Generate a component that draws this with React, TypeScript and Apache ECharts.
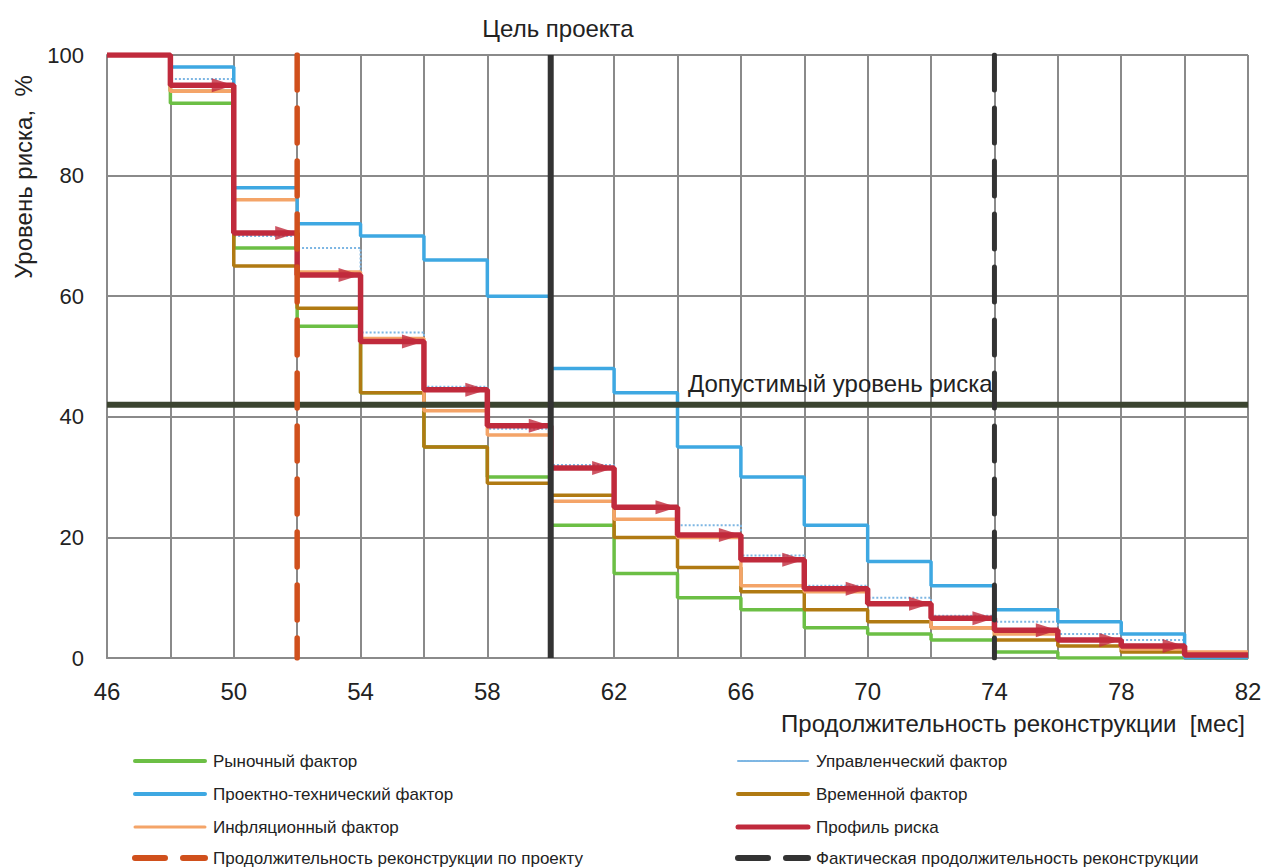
import React, { useEffect, useRef } from "react";
import * as echarts from "echarts";

// step boundaries (months)
const months = [46, 48, 50, 52, 54, 56, 58, 60, 62, 64, 66, 68, 70, 72, 74, 76, 78, 80, 82];
// values per 2-month interval (46-48 ... 80-82)
const marketFactor = [100, 92, 68, 55, 44, 35, 30, 22, 14, 10, 8, 5, 4, 3, 1, 0, 0, 0];
const managementFactor = [100, 96, 70, 68, 54, 45, 38, 32, 25, 22, 17, 12, 10, 7, 6, 4, 3, 0];
const technicalFactor = [100, 98, 78, 72, 70, 66, 60, 48, 44, 35, 30, 22, 16, 12, 8, 6, 4, 0];
const timeFactor = [100, 94, 65, 58, 44, 35, 29, 27, 20, 15, 11, 8, 6, 5, 3, 2, 1, 0];
const inflationFactor = [100, 94, 76, 64, 53, 41, 37, 26, 23, 20, 12, 11, 9, 5, 4, 3, 1.5, 1];
const riskProfile = [100, 95, 70.5, 63.5, 52.5, 44.5, 38.5, 31.5, 25, 20.4, 16.3, 11.5, 9, 6.6, 4.6, 3, 2, 0.5];

const plannedDuration = 52;
const projectTarget = 60;
const actualDuration = 74;
const acceptableRisk = 42;

const xTicks = [46, 50, 54, 58, 62, 66, 70, 74, 78, 82];
const yTicks = [0, 20, 40, 60, 80, 100];

const legendLeft = [
  "Рыночный фактор",
  "Проектно-технический фактор",
  "Инфляционный фактор",
  "Продолжительность реконструкции по проекту",
];
const legendRight = [
  "Управленческий фактор",
  "Временной фактор",
  "Профиль риска",
  "Фактическая продолжительность реконструкции",
];

const C_GREEN = "#6cbf45";
const C_BLUE = "#3ea8e2";
const C_LBLUE = "#7db6e3";
const C_BROWN = "#b07a12";
const C_ORANGE = "#f4a468";
const C_RED = "#c02a3c";
const C_VORANGE = "#d0501c";
const C_BLACK = "#333333";
const C_OLIVE = "#3b4430";

function stepData(vals: number[]) {
  const d: number[][] = vals.map((v, i) => [months[i], v]);
  d.push([months[months.length - 1], vals[vals.length - 1]]);
  return d;
}

export default function App() {
  const ref = useRef<HTMLDivElement>(null);
  useEffect(() => {
    document.body.style.margin = "0";
    const chart = echarts.init(ref.current!, null, { renderer: "svg" });
    const font = "'Liberation Sans', Arial, sans-serif";
    const stepSeries = (name: string, vals: number[], color: string, width: number, type: any = "solid") => ({
      name,
      type: "line",
      step: "end",
      data: stepData(vals),
      symbol: "none",
      lineStyle: { color, width, type },
      z: 3,
    });
    const arrowData = riskProfile
      .map((v, i) => [months[i + 1], v])
      .filter((p, i) => i >= 1 && i <= 16);

    const legendStyles: any = {
      "Рыночный фактор": { stroke: C_GREEN, lineWidth: 4 },
      "Проектно-технический фактор": { stroke: C_BLUE, lineWidth: 4 },
      "Инфляционный фактор": { stroke: C_ORANGE, lineWidth: 3 },
      "Продолжительность реконструкции по проекту": { stroke: C_VORANGE, lineWidth: 6, lineDash: [30, 18, 22, 0] },
      "Управленческий фактор": { stroke: C_LBLUE, lineWidth: 2, lineDash: [2, 1] },
      "Временной фактор": { stroke: C_BROWN, lineWidth: 4 },
      "Профиль риска": { stroke: C_RED, lineWidth: 5 },
      "Фактическая продолжительность реконструкции": { stroke: C_BLACK, lineWidth: 6, lineDash: [30, 18, 22, 0] },
    };
    const legendGraphics: any[] = [];
    const rowsY = [761, 794, 827, 858];
    [legendLeft, legendRight].forEach((col, ci) => {
      const lx = ci === 0 ? 135 : 738;
      col.forEach((name, ri) => {
        const y = rowsY[ri];
        legendGraphics.push({
          type: "line",
          shape: { x1: lx, y1: y, x2: lx + 70, y2: y },
          style: { ...legendStyles[name], lineCap: "round" },
        });
        legendGraphics.push({
          type: "text",
          x: lx + 78,
          y: y,
          style: { text: name, font: `17px ${font}`, fill: "#222", textVerticalAlign: "middle" },
        });
      });
    });

    chart.setOption({
      animation: false,
      backgroundColor: "#ffffff",
      grid: { left: 107, right: 18, top: 55, bottom: 210, containLabel: false },
      xAxis: {
        type: "value",
        min: 46,
        max: 82,
        interval: 2,
        axisLine: { show: true, lineStyle: { color: "#8a8a8a", width: 2 } },
        axisTick: { show: false },
        splitLine: { show: true, lineStyle: { color: "#8a8a8a", width: 2 } },
        axisLabel: {
          margin: 21,
          fontSize: 24,
          fontFamily: font,
          color: "#222",
          formatter: (v: number) => (xTicks.includes(v) ? String(v) : ""),
        },
      },
      yAxis: {
        type: "value",
        min: 0,
        max: 100,
        interval: 20,
        axisLine: { show: true, lineStyle: { color: "#8a8a8a", width: 2 } },
        axisTick: { show: false },
        splitLine: { show: true, lineStyle: { color: "#8a8a8a", width: 2 } },
        axisLabel: {
          margin: 23,
          fontSize: 22,
          fontFamily: font,
          color: "#222",
          formatter: (v: number) => (yTicks.includes(v) ? String(v) : ""),
        },
      },
      series: [
        stepSeries("Управленческий фактор", managementFactor, C_LBLUE, 2, "dotted"),
        stepSeries("Рыночный фактор", marketFactor, C_GREEN, 3.5),
        stepSeries("Временной фактор", timeFactor, C_BROWN, 3.5),
        stepSeries("Инфляционный фактор", inflationFactor, C_ORANGE, 3.5),
        stepSeries("Проектно-технический фактор", technicalFactor, C_BLUE, 3.5),
        {
          name: "Допустимый уровень риска",
          type: "line",
          data: [[46, acceptableRisk], [82, acceptableRisk]],
          symbol: "none",
          lineStyle: { color: C_OLIVE, width: 6 },
          z: 4,
        },
        { ...stepSeries("Профиль риска", riskProfile, C_RED, 5.5), z: 5 },
        {
          name: "arrows",
          type: "scatter",
          data: arrowData,
          symbol: "path://M0,0 L10,5 L0,10 Z",
          symbolSize: [22, 14],
          symbolOffset: [-11, 0],
          symbolKeepAspect: false,
          itemStyle: { color: C_RED },
          z: 6,
        },
        {
          name: "Продолжительность реконструкции по проекту",
          type: "line",
          data: [[plannedDuration, 100], [plannedDuration, 0]],
          symbol: "none",
          lineStyle: { color: C_VORANGE, width: 5.5, type: [35, 18], cap: "round" },
          z: 7,
        },
        {
          name: "Цель проекта",
          type: "line",
          data: [[projectTarget, 0], [projectTarget, 100]],
          symbol: "none",
          lineStyle: { color: C_BLACK, width: 6 },
          z: 7,
        },
        {
          name: "Фактическая продолжительность реконструкции",
          type: "line",
          data: [[actualDuration, 100], [actualDuration, 0]],
          symbol: "none",
          lineStyle: { color: C_BLACK, width: 5, type: [35, 18], cap: "round" },
          z: 7,
        },
      ],
      graphic: [
        {
          type: "text",
          x: 558,
          y: 28,
          style: { text: "Цель проекта", font: `24px ${font}`, fill: "#222", textAlign: "center", textVerticalAlign: "middle" },
        },
        {
          type: "text",
          x: 688,
          y: 383,
          z: 10,
          style: { text: "Допустимый уровень риска", font: `24px ${font}`, fill: "#222", textVerticalAlign: "middle" },
        },
        {
          type: "text",
          x: 1245,
          y: 723,
          style: { text: "Продолжительность реконструкции  [мес]", font: `24px ${font}`, fill: "#222", textAlign: "right", textVerticalAlign: "middle" },
        },
        {
          type: "text",
          x: 23,
          y: 177,
          rotation: Math.PI / 2,
          style: { text: "Уровень риска,  %", font: `24px ${font}`, fill: "#222", textAlign: "center", textVerticalAlign: "middle" },
        },
        ...legendGraphics,
      ],
    });
    return () => chart.dispose();
  }, []);
  return <div ref={ref} style={{ position: "absolute", left: 0, top: 0, width: 1266, height: 868 }} />;
}
